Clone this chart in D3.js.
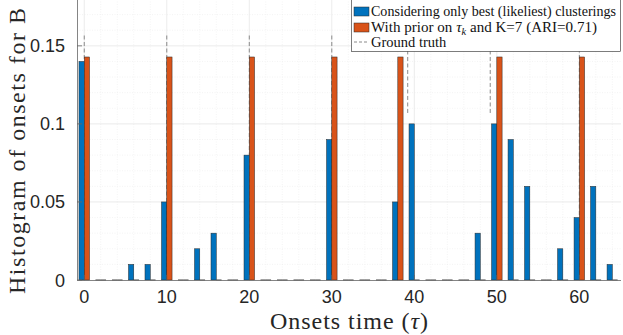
<!DOCTYPE html>
<html><head><meta charset="utf-8">
<script src="https://cdn.jsdelivr.net/npm/d3@7"></script>
<style>body{margin:0;background:#fff}svg{display:block}</style>
</head><body>
<script>
// ---- data ----
const positions = d3.range(0, 65, 2);
const bestValues = [0.14,0,0,0.01,0.01,0.05,0,0.02,0.03,0,0.08,0,0,0,0,0.09,0,0,0,0.05,0.10,0,0,0,0.03,0.10,0.09,0.06,0,0.02,0.04,0.06,0.01];
const priorValues = [1/7,0,0,0,0,1/7,0,0,0,0,1/7,0,0,0,0,1/7,0,0,0,1/7,0,0,0,0,0,1/7,0,0,0,0,1/7,0,0];
const truthOnsets = [0,10,20,30,39.2,49.2,60];
const truthLow = [0,0,0,0,0.107,0.107,0];
const truthHigh = [0.157,0.158,0.158,0.158,0.158,0.158,0.158];
const xTicks = [0,10,20,30,40,50,60];
const yTicks = [0,0.05,0.1,0.15];
const yTickLabels = ["0","0.05","0.1","0.15"];
const legendLabels = ["Considering only best (likeliest) clusterings","With prior on","Ground truth"];

const W = 623, H = 335;
const svg = d3.select("body").append("svg").attr("width", W).attr("height", H);
const x = d3.scaleLinear().domain([-0.88, 65.05]).range([77, 621]);
const y = d3.scaleLinear().domain([0, 0.18]).range([280, -1]);
const bw = 0.64;
const blue = "#0072BD", orange = "#D95319";

// minor grid
const g = svg.append("g");
g.selectAll(".mgx").data(d3.range(2, 65, 2).filter(v => v % 10 !== 0)).join("line")
  .attr("x1", d => x(d)).attr("x2", d => x(d)).attr("y1", y(0)).attr("y2", 0)
  .attr("stroke", "#ececec").attr("stroke-width", 0.6).attr("stroke-dasharray", "1,1.5");
g.selectAll(".mgy").data(d3.range(0.01, 0.18, 0.01).filter(v => Math.abs(v*20 - Math.round(v*20)) > 1e-6)).join("line")
  .attr("x1", x.range()[0]).attr("x2", x.range()[1]).attr("y1", d => y(d)).attr("y2", d => y(d))
  .attr("stroke", "#ececec").attr("stroke-width", 0.6).attr("stroke-dasharray", "1,1.5");
// major grid
g.selectAll(".gx").data(xTicks).join("line")
  .attr("x1", d => x(d)).attr("x2", d => x(d)).attr("y1", y(0)).attr("y2", 0)
  .attr("stroke", "#e3e3e3").attr("stroke-width", 0.7);
g.selectAll(".gy").data(yTicks.slice(1)).join("line")
  .attr("x1", x.range()[0]).attr("x2", x.range()[1]).attr("y1", d => y(d)).attr("y2", d => y(d))
  .attr("stroke", "#e3e3e3").attr("stroke-width", 0.7);

// ground truth (behind bars)
svg.append("g").selectAll("line").data(truthOnsets).join("line")
  .attr("x1", d => x(d)).attr("x2", d => x(d))
  .attr("y1", (d, i) => y(truthLow[i])).attr("y2", (d, i) => y(truthHigh[i]))
  .attr("stroke", "#8a8a8a").attr("stroke-width", 1).attr("stroke-dasharray", "4,2.5");

// bars
function drawBars(vals, off, color) {
  const bars = svg.append("g");
  const nz = positions.map((p, i) => ({p, v: vals[i]}));
  bars.selectAll("rect").data(nz.filter(d => d.v > 0)).join("rect")
    .attr("x", d => x(d.p + off)).attr("width", d => x(d.p + off + bw) - x(d.p + off))
    .attr("y", d => y(d.v)).attr("height", d => y(0) - y(d.v))
    .attr("fill", color).attr("stroke", "#2a2a2a").attr("stroke-width", 0.5);
  bars.selectAll("line").data(nz.filter(d => d.v === 0)).join("line")
    .attr("x1", d => x(d.p + off)).attr("x2", d => x(d.p + off + bw))
    .attr("y1", y(0)).attr("y2", y(0)).attr("stroke", "#444").attr("stroke-width", 1);
}
drawBars(bestValues, -bw, blue);
drawBars(priorValues, 0, orange);

// axes
const axCol = "#666";
svg.append("line").attr("x1", x.range()[0]).attr("x2", x.range()[1]).attr("y1", y(0)+0.5).attr("y2", y(0)+0.5).attr("stroke", axCol).attr("stroke-width", 0.8);
svg.append("line").attr("x1", x.range()[0]+0.5).attr("x2", x.range()[0]+0.5).attr("y1", y(0)).attr("y2", 0).attr("stroke", axCol).attr("stroke-width", 0.8);
svg.selectAll(".ytk").data(yTicks).join("line").attr("x1", x.range()[0]).attr("x2", x.range()[0]+5)
  .attr("y1", d => y(d)).attr("y2", d => y(d)).attr("stroke", axCol).attr("stroke-width", 0.8);
svg.selectAll(".xtk").data(xTicks).join("line").attr("x1", d => x(d)).attr("x2", d => x(d))
  .attr("y1", y(0)).attr("y2", y(0)-5).attr("stroke", axCol).attr("stroke-width", 0.8);

const sans = "'Liberation Sans', Arial, sans-serif";
const serif = "'Liberation Serif', 'Times New Roman', serif";
svg.selectAll(".ytl").data(yTicks).join("text")
  .attr("x", 65).attr("y", d => y(d) + 6.5).attr("text-anchor", "end")
  .attr("font-family", sans).attr("font-size", 18).attr("fill", "#262626")
  .text((d, i) => yTickLabels[i]);
svg.selectAll(".xtl").data(xTicks).join("text")
  .attr("x", d => x(d)).attr("y", 303).attr("text-anchor", "middle")
  .attr("font-family", sans).attr("font-size", 18).attr("fill", "#262626")
  .text(d => d);

// axis titles
const xt = svg.append("text").attr("x", 349).attr("y", 329).attr("text-anchor", "middle")
  .attr("font-family", serif).attr("font-size", 24).attr("fill", "#262626")
  .attr("textLength", 158).attr("lengthAdjust", "spacing");
xt.append("tspan").text("Onsets time (");
xt.append("tspan").attr("font-style", "italic").text("τ");
xt.append("tspan").text(")");
svg.append("text").attr("transform", "translate(25,151) rotate(-90)").attr("text-anchor", "middle")
  .attr("font-family", serif).attr("font-size", 24).attr("fill", "#262626")
  .attr("textLength", 286).attr("lengthAdjust", "spacing")
  .text("Histogram of onsets for B");

// legend
const lg = svg.append("g");
lg.append("rect").attr("x", 351.5).attr("y", -1).attr("width", 269).attr("height", 52.5)
  .attr("fill", "#fff").attr("stroke", "#262626").attr("stroke-width", 0.6);
const rows = [15.5, 31.5, 47];
lg.append("rect").attr("x", 354).attr("y", 7).attr("width", 15).attr("height", 9).attr("fill", blue).attr("stroke", "#2a2a2a").attr("stroke-width", 0.5);
lg.append("rect").attr("x", 354).attr("y", 23).attr("width", 15).attr("height", 9).attr("fill", orange).attr("stroke", "#2a2a2a").attr("stroke-width", 0.5);
lg.append("line").attr("x1", 354).attr("x2", 369).attr("y1", 42).attr("y2", 42).attr("stroke", "#8a8a8a").attr("stroke-dasharray", "3,2");
const lt = (i) => lg.append("text").attr("x", 371).attr("y", rows[i]).attr("font-family", serif).attr("font-size", 14.5).attr("fill", "#111");
lt(0).attr("textLength", 245).attr("lengthAdjust", "spacingAndGlyphs").text(legendLabels[0]);
const t1 = lt(1).attr("textLength", 226).attr("lengthAdjust", "spacingAndGlyphs");
t1.append("tspan").text(legendLabels[1] + " ");
t1.append("tspan").attr("font-style", "italic").text("τ");
t1.append("tspan").attr("font-style", "italic").attr("font-size", 10).attr("dy", 3).text("k");
t1.append("tspan").attr("dy", -3).text(" and K=7 (ARI=0.71)");
lt(2).text(legendLabels[2]);
</script>
</body></html>
